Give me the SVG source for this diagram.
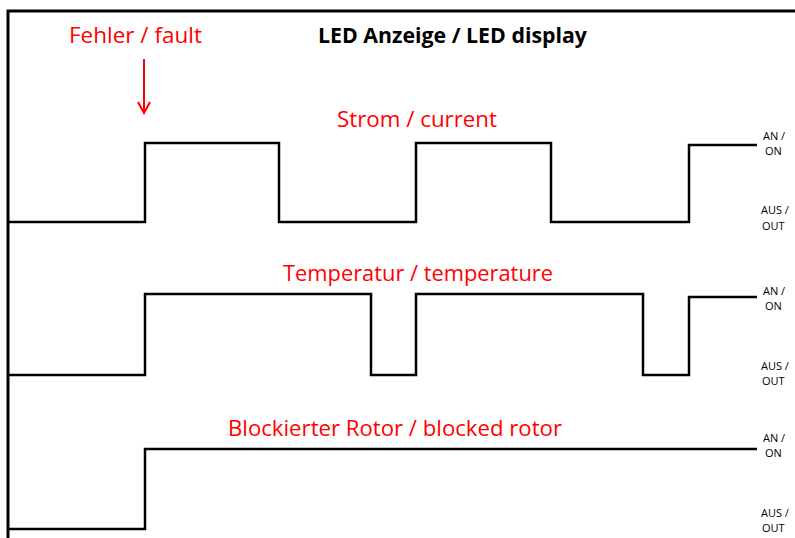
<svg xmlns="http://www.w3.org/2000/svg" width="795" height="538" viewBox="0 0 795 538">
<style>
.sig{fill:none;stroke:#000;stroke-width:2.5;stroke-linejoin:miter}
.frame{fill:none;stroke:#000;stroke-width:3}
.red{font-family:"Open Sans","Noto Sans",sans-serif;font-size:22px;fill:#ff0000}
.title{font-family:"Open Sans","Noto Sans",sans-serif;font-size:21px;font-weight:bold;fill:#000}
.lvl{font-family:"Open Sans","Noto Sans",sans-serif;font-size:11px;fill:#000}
</style>
<defs>
<marker id="arr" markerWidth="14" markerHeight="14" refX="12" refY="7" orient="auto" markerUnits="userSpaceOnUse">
<path d="M1,1 L12,7 L1,13" fill="none" stroke="#ff0000" stroke-width="2"/>
</marker>
</defs>
<rect width="795" height="538" fill="#fff"/>
<g id="frame"><path class="frame" d="M8,538 V11 H795"/></g>
<g id="title"><text class="title" x="318" y="43" textLength="269" lengthAdjust="spacingAndGlyphs">LED Anzeige / LED display</text></g>
<g id="fault">
<text class="red" x="69" y="43" textLength="133" lengthAdjust="spacingAndGlyphs">Fehler / fault</text>
</g>
<g id="connectors">
<line x1="144" y1="59" x2="144" y2="113" stroke="#ff0000" stroke-width="2" marker-end="url(#arr)"/>
</g>
<g id="current">
<text class="red" x="337" y="127" textLength="160" lengthAdjust="spacingAndGlyphs">Strom / current</text>
<path class="sig" d="M8,222 H145 V143 H279 V222 H416 V143 H551 V222 H689 V145 H757"/>
<text class="lvl" x="763" y="140">AN /</text>
<text class="lvl" x="765" y="155">ON</text>
<text class="lvl" x="761" y="214">AUS /</text>
<text class="lvl" x="762" y="230">OUT</text>
</g>
<g id="temperature">
<text class="red" x="283" y="281" textLength="270" lengthAdjust="spacingAndGlyphs">Temperatur / temperature</text>
<path class="sig" d="M8,375 H145 V294 H371 V375 H416 V294 H643 V375 H689 V297 H757"/>
<text class="lvl" x="763" y="295">AN /</text>
<text class="lvl" x="765" y="310">ON</text>
<text class="lvl" x="761" y="370">AUS /</text>
<text class="lvl" x="762" y="385">OUT</text>
</g>
<g id="blocked">
<text class="red" x="228" y="436" textLength="334" lengthAdjust="spacingAndGlyphs">Blockierter Rotor / blocked rotor</text>
<path class="sig" d="M8,529 H145 V449 H757"/>
<text class="lvl" x="763" y="442">AN /</text>
<text class="lvl" x="765" y="457">ON</text>
<text class="lvl" x="761" y="517">AUS /</text>
<text class="lvl" x="762" y="532">OUT</text>
</g>
</svg>
